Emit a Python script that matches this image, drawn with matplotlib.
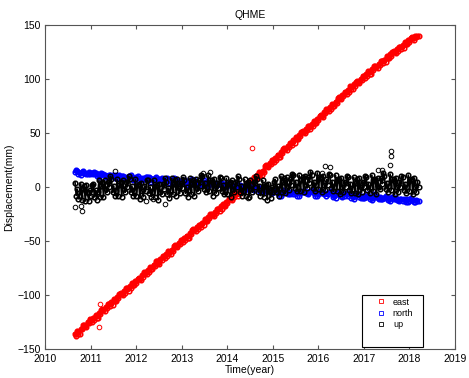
import numpy as np
import matplotlib
matplotlib.use("Agg")
import matplotlib.pyplot as plt
from matplotlib.patches import Rectangle

plt.rcParams['font.family'] = ['Liberation Sans', 'DejaVu Sans']

# time span of the station series (decimal years)
t_start, t_end = 2010.65, 2018.2

# east component, sampled every 0.025 yr (mm)
east = [-136, -138, -133, -136, -136, -132, -132, -128, -128, -129, -130, -125,
        -126, -122, -123, -125, -121, -123, -119, -121, -121, -117, -118, -114,
        -113, -114, -115, -111, -112, -108, -108, -110, -107, -109, -104, -106,
        -106, -102, -103, -99, -98, -99, -100, -96, -98, -94, -94, -96,
        -92, -94, -89, -91, -91, -87, -89, -85, -84, -85, -86, -82,
        -83, -79, -79, -81, -77, -79, -74, -76, -76, -72, -73, -69,
        -69, -70, -71, -67, -68, -64, -64, -66, -62, -64, -59, -61,
        -62, -58, -59, -55, -54, -55, -56, -52, -53, -49, -49, -51,
        -47, -49, -45, -47, -47, -43, -44, -40, -39, -40, -41, -37,
        -39, -35, -35, -37, -33, -35, -30, -32, -32, -28, -29, -25,
        -25, -26, -27, -23, -24, -20, -20, -22, -18, -20, -16, -18,
        -18, -14, -15, -11, -10, -11, -12, -8, -9, -5, -6, -8,
        -4, -6, -1, -3, -3, 1, 0, 4, 4, 3, 2, 6,
        5, 9, 9, 7, 11, 9, 14, 12, 11, 15, 14, 19,
        20, 19, 18, 22, 21, 25, 25, 23, 27, 25, 30, 28,
        28, 32, 31, 35, 36, 35, 34, 38, 37, 41, 41, 39,
        43, 41, 46, 44, 44, 48, 47, 51, 52, 51, 50, 54,
        53, 56, 56, 54, 58, 56, 61, 59, 59, 63, 62, 66,
        67, 66, 65, 69, 68, 72, 72, 70, 74, 72, 77, 75,
        75, 79, 78, 82, 83, 82, 81, 85, 84, 88, 88, 86,
        90, 88, 93, 91, 91, 95, 93, 97, 98, 97, 96, 100,
        99, 103, 103, 101, 105, 103, 107, 105, 105, 109, 108, 112,
        112, 111, 110, 114, 113, 117, 117, 115, 118, 116, 121, 119,
        119, 123, 121, 125, 126, 125, 124, 128, 126, 130, 130, 128,
        131, 129, 134, 132, 132, 136, 134, 138, 139, 138, 136, 140,
        139, 140, 140]

# north component, sampled every 0.025 yr (mm)
north = [14, 16, 15, 12, 13, 11, 14, 15, 13, 13, 12, 12, 14, 12, 13, 13,
         12, 14, 13, 10, 12, 9, 11, 13, 12, 12, 11, 9, 10, 9, 11, 11,
         10, 11, 9, 8, 11, 8, 10, 11, 9, 10, 10, 8, 9, 7, 8, 10,
         10, 11, 9, 6, 8, 6, 9, 10, 8, 8, 7, 6, 8, 7, 9, 9,
         7, 9, 8, 5, 7, 5, 8, 9, 6, 7, 7, 6, 8, 6, 7, 7,
         6, 8, 7, 4, 6, 3, 5, 8, 7, 7, 6, 4, 5, 4, 6, 6,
         5, 6, 4, 2, 5, 2, 4, 7, 6, 6, 5, 3, 4, 2, 3, 4,
         4, 6, 5, 2, 3, 1, 4, 5, 3, 3, 2, 2, 4, 2, 3, 3,
         2, 4, 3, 0, 2, 0, 1, 4, 3, 3, 2, 0, 1, 0, 2, 2,
         0, 2, 1, -2, 0, -3, -1, 2, 1, 1, 0, -2, -1, -3, -2, -1,
         -1, 0, -2, -5, -3, -5, -2, -1, -4, -3, -3, -5, -4, -6, -5, -4,
         -4, -3, -6, -8, -5, -8, -6, -3, -4, -4, -5, -7, -6, -7, -5, -5,
         -7, -5, -6, -8, -5, -8, -6, -4, -5, -4, -4, -6, -6, -7, -5, -4,
         -4, -3, -6, -8, -5, -8, -7, -4, -6, -5, -5, -7, -6, -8, -7, -5,
         -5, -4, -6, -9, -8, -10, -7, -5, -6, -6, -8, -9, -7, -8, -6, -6,
         -8, -6, -7, -10, -9, -11, -8, -6, -7, -7, -9, -10, -8, -10, -10, -9,
         -9, -7, -8, -11, -9, -12, -10, -7, -8, -8, -10, -11, -9, -11, -11, -10,
         -10, -8, -9, -12, -11, -13, -10, -9, -11, -10, -10, -12, -12, -13, -11, -11,
         -13, -11, -12, -14, -11, -14, -13, -10, -12, -12, -14, -14,
         -12, -13, -13]

# up component, sampled every 0.025 yr (mm)
up = [4, -8, -2, -11, -8, 3, -12, -2, 1, -13, 2, -6, -13, -3, -8, 2,
      3, -9, -3, -12, -5, 6, -9, 1, 5, -9, 6, -2, -5, 5, 0, 10,
      7, -5, 1, -8, -4, 7, -8, 2, 5, -9, 6, -2, -5, 5, 0, 10,
      7, -5, 1, -8, -4, 7, -8, 2, 3, -11, 4, -4, -9, 1, -4, 6,
      6, -6, 0, -9, -5, 6, -9, 1, 2, -12, 3, -5, -7, 3, -2, 8,
      5, -7, -1, -10, -3, 8, -7, 3, 6, -8, 7, -1, -6, 4, -1, 9,
      6, -6, 0, -9, -3, 8, -7, 3, 6, -8, 7, -1, -4, 6, 1, 11,
      10, -2, 4, -5, 0, 11, -4, 6, 6, -8, 7, -1, -6, 4, -1, 9,
      8, -4, 2, -7, -3, 8, -7, 3, 5, -9, 6, -2, -5, 5, 0, 10,
      7, -5, 1, -8, -4, 7, -8, 2, 5, -9, 6, -2, -5, 5, 0, 10,
      7, -5, 1, -8, -5, 6, -9, 1, 2, -12, 3, -5, -10, 0, -5, 5,
      7, -5, 1, -8, -1, 10, -5, 5, 8, -6, 9, 1, -3, 7, 2, 12,
      11, -1, 5, -4, 0, 11, -4, 6, 9, -5, 10, 2, -1, 9, 4, 14,
      11, -1, 5, -4, 2, 13, -2, 8, 9, -5, 10, 2, -3, 7, 2, 12,
      11, -1, 5, -4, 0, 11, -4, 6, 7, -7, 8, 0, -5, 5, 0, 10,
      9, -3, 3, -6, -2, 9, -6, 4, 7, -7, 8, 0, -5, 5, 0, 10,
      9, -3, 3, -6, 0, 11, -4, 6, 7, -7, 8, 0, -2, 8, 3, 13,
      10, -2, 4, -5, 1, 12, -3, 7, 7, -7, 8, 0, -5, 5, 0, 10,
      9, -3, 3, -6, 0, 11, -4, 6, 7, -7, 8, 0, -5, 5, 0]

# isolated outliers
east_out_t = [2011.18, 2011.20, 2014.55]
east_out_v = [-130, -108, 36]
up_out_t = [2010.65, 2010.78, 2010.80, 2011.53, 2012.20, 2012.37, 2012.63,
            2013.46, 2013.62, 2014.45, 2016.08, 2016.14, 2016.25,
            2017.30, 2017.40, 2017.58, 2017.60, 2017.60]
up_out_v = [-19, -18, -22, 15, -13, -11, -16,
            13, 14, -10, 13, 19, 18,
            16, 16, 20, 29, 33]

t_e = np.linspace(t_start, t_end, len(east))
t_n = np.linspace(t_start, t_end, len(north))
t_u = np.linspace(t_start, t_end, len(up))

fig = plt.figure(figsize=(4.69, 3.78), dpi=100)
ax = fig.add_axes([0.097, 0.077, 0.873, 0.857])

mk = dict(marker='o', fillstyle='none', markersize=3.3, markeredgewidth=1.1)
out = dict(linestyle='none', marker='o', fillstyle='none', markersize=3.3, markeredgewidth=0.7)

# daily series are dense enough that the circles merge into a band;
# a line through the samples fills the band the same way
ax.plot(t_e, east, color='#ff0000', linewidth=2.6, **mk)
ax.plot(east_out_t, east_out_v, color='#ff0000', **out)
ax.plot(t_n, north, color='#0000ff', linewidth=2.0, **mk)
ax.plot(t_u, up, color='black', linewidth=1.2, **mk)
ax.plot(up_out_t, up_out_v, color='black', **out)

ax.set_xlim(2010, 2019)
ax.set_ylim(-150, 150)
ax.set_xticks(range(2010, 2020))
ax.set_yticks(range(-150, 151, 50))
ax.tick_params(direction='in', top=True, right=True, labelsize=7.5, length=3, color='#555555')
for s in ax.spines.values():
    s.set_color('#555555')
    s.set_linewidth(0.8)

ax.set_title('QHME', fontsize=7.5, pad=5)
ax.set_xlabel('Time(year)', fontsize=7.5, labelpad=1)
ax.set_ylabel('Displacement(mm)', fontsize=7.5, labelpad=2)

# legend: entries near the top of a taller box, like the original
hmk = dict(linestyle='none', marker='s', fillstyle='none', markersize=2.5, markeredgewidth=0.6)
handles = [plt.Line2D([], [], color=c, **hmk) for c in ['#ff0000', '#0000ff', 'black']]
leg = ax.legend(handles, ['east', 'north', 'up'], loc='upper left',
                bbox_to_anchor=(0.80, 0.167), frameon=False, fontsize=6.5,
                handlelength=1.2, handletextpad=0.7, borderaxespad=0, borderpad=0.3,
                labelspacing=0.25)
ax.add_patch(Rectangle((0.774, 0.006), 0.147, 0.161, transform=ax.transAxes,
                       fill=True, facecolor='white', edgecolor='black', linewidth=0.8, zorder=4))
leg.set_zorder(5)

fig.savefig('out.png', dpi=100)
